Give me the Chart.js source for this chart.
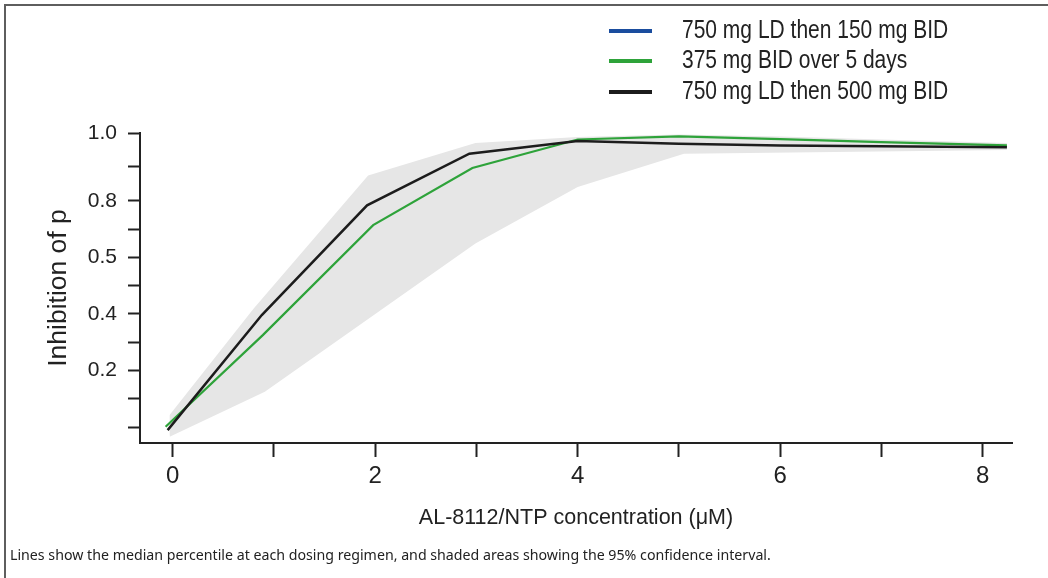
<!DOCTYPE html>
<html lang="en">
<head>
  <meta charset="UTF-8">
  <title>Inhibition vs AL-8112/NTP concentration</title>
  <script src="https://cdn.jsdelivr.net/npm/chart.js"></script>
  <style>
    body { margin: 0; background: #fff; }
    #wrap { position: relative; width: 1048px; height: 578px; overflow: hidden; }
    #frame { position: absolute; left: 4px; top: 4px; right: -10px; bottom: -10px;
             border-top: 2px solid #5e5e5e; border-left: 2px solid #5e5e5e; }
    #chartBox { position: absolute; left: 0; top: 0; width: 1048px; height: 578px; }
    .leg { position: absolute; left: 609px; font-family: "Liberation Sans", Arial, sans-serif;
           font-size: 25px; color: #222; white-space: nowrap; }
    .leg span.sw { position: absolute; left: 0; width: 43px; height: 4px; }
    .leg span.tx { position: absolute; left: 73px; top: -15px; line-height: 30px;
                   transform: scaleX(0.84); transform-origin: left center; }
    #caption { position: absolute; left: 10px; top: 545px; font-family: "Noto Sans", sans-serif;
               font-size: 14.2px; color: #222; white-space: nowrap; }
  </style>
</head>
<body>
  <div id="wrap">
    <div id="frame"></div>
    <div id="chartBox"><canvas id="inhibChart"></canvas></div>
    <div id="legend"></div>
    <div id="caption">Lines show the median percentile at each dosing regimen, and shaded areas showing the 95% confidence interval.</div>
  </div>

  <script>
    // legend entries (blue regimen is listed but hidden under the black line)
    const legendLabels = ['750 mg LD then 150 mg BID', '375 mg BID over 5 days', '750 mg LD then 500 mg BID'];
    const legendColors = ['#1a4d9e', '#2ea33a', '#1c1c1c'];

    // x axis ticks
    const xTickValues = [0, 1, 2, 3, 4, 5, 6, 7, 8];
    const xTickLabels = ['0', '', '2', '', '4', '', '6', '', '8'];

    // y axis ticks: positions on the axis and the labels printed there
    const yTickPos = [0, 1, 2, 3, 4, 5, 6, 7, 8, 9.2, 10.4];
    const yTickLabels = ['', '', '0.2', '', '0.4', '', '0.5', '', '0.8', '', '1.0'];

    // black: 750 mg LD then 500 mg BID
    const blackX = [-0.05, 0.88, 1.92, 2.93, 4.0, 5.0, 6.0, 7.0, 8.24];
    const blackY = [-0.11, 3.96, 7.84, 9.67, 10.12, 10.02, 9.96, 9.93, 9.90];

    // green: 375 mg BID over 5 days
    const greenX = [-0.07, 0.89, 1.98, 2.96, 4.0, 5.0, 6.0, 7.0, 8.24];
    const greenY = [0.01, 3.25, 7.14, 9.16, 10.17, 10.28, 10.18, 10.08, 9.96];

    // 95% band edges
    const bandUpX = [-0.07, 0.80, 1.93, 2.99, 4.0, 5.0, 6.0, 7.0, 8.24];
    const bandUpY = [0.25, 4.19, 8.90, 10.05, 10.26, 10.35, 10.28, 10.17, 10.05];
    const bandLoX = [-0.03, 0.91, 2.99, 4.0, 5.05, 8.24];
    const bandLoY = [-0.34, 1.25, 6.49, 8.49, 9.67, 9.80];

    const pts = (xs, ys) => xs.map((x, i) => ({ x: x, y: ys[i] }));

    // html legend
    const legendDiv = document.getElementById('legend');
    const legendTops = [31, 61, 92];
    legendLabels.forEach((lab, i) => {
      const d = document.createElement('div');
      d.className = 'leg';
      d.style.top = (legendTops[i] - 2) + 'px';
      d.innerHTML = '<span class="sw" style="background:' + legendColors[i] + '"></span><span class="tx">' + lab + '</span>';
      legendDiv.appendChild(d);
    });

    const axisColor = '#222';
    const ctx = document.getElementById('inhibChart').getContext('2d');
    new Chart(ctx, {
      type: 'line',
      data: {
        datasets: [
          { label: legendLabels[2], data: pts(blackX, blackY), borderColor: legendColors[2], borderWidth: 2.5, pointRadius: 0, fill: false, tension: 0 },
          { label: legendLabels[1], data: pts(greenX, greenY), borderColor: legendColors[1], borderWidth: 2.2, pointRadius: 0, fill: false, tension: 0 },
          { label: 'upper', data: pts(bandUpX, bandUpY), borderWidth: 0, borderColor: 'rgba(0,0,0,0)', backgroundColor: '#e6e6e6', pointRadius: 0, fill: '+1' },
          { label: 'lower', data: pts(bandLoX, bandLoY), borderWidth: 0, borderColor: 'rgba(0,0,0,0)', pointRadius: 0, fill: false }
        ]
      },
      options: {
        responsive: true,
        maintainAspectRatio: false,
        animation: false,
        layout: { padding: { left: 0, top: 133, right: 36, bottom: 45 } },
        plugins: { legend: { display: false }, tooltip: { enabled: false } },
        scales: {
          x: {
            type: 'linear',
            min: -0.323,
            max: 8.29,
            afterBuildTicks: (scale) => { scale.ticks = xTickValues.map(v => ({ value: v })); },
            afterFit: (scale) => { scale.height = 90; },
            grid: { drawOnChartArea: false, drawTicks: true, tickLength: 14, tickWidth: 2, tickColor: axisColor },
            border: { display: true, color: axisColor, width: 2 },
            ticks: {
              autoSkip: false, maxRotation: 0, padding: 5, color: axisColor,
              font: { family: '"Liberation Sans", Arial, sans-serif', size: 24 },
              callback: (value, index) => xTickLabels[index]
            },
            title: {
              display: true, text: 'AL-8112/NTP concentration (\u03bcM)', color: axisColor,
              font: { family: '"Liberation Sans", Arial, sans-serif', size: 21.5 },
              padding: { top: 0, bottom: 2 }
            }
          },
          y: {
            type: 'linear',
            min: -0.565,
            max: 10.4,
            afterBuildTicks: (scale) => { scale.ticks = yTickPos.map(v => ({ value: v })); },
            afterFit: (scale) => { scale.width = 140; },
            grid: { drawOnChartArea: false, drawTicks: true, tickLength: 12, tickWidth: 2, tickColor: axisColor },
            border: { display: true, color: axisColor, width: 2 },
            ticks: {
              autoSkip: false, padding: 11, color: axisColor,
              font: { family: '"Liberation Sans", Arial, sans-serif', size: 21 },
              callback: (value, index) => yTickLabels[index]
            },
            title: {
              display: true, text: 'Inhibition of p', color: axisColor,
              font: { family: '"Liberation Sans", Arial, sans-serif', size: 26.5 },
              padding: { top: 43, bottom: 0 }
            }
          }
        }
      }
    });
  </script>
</body>
</html>
